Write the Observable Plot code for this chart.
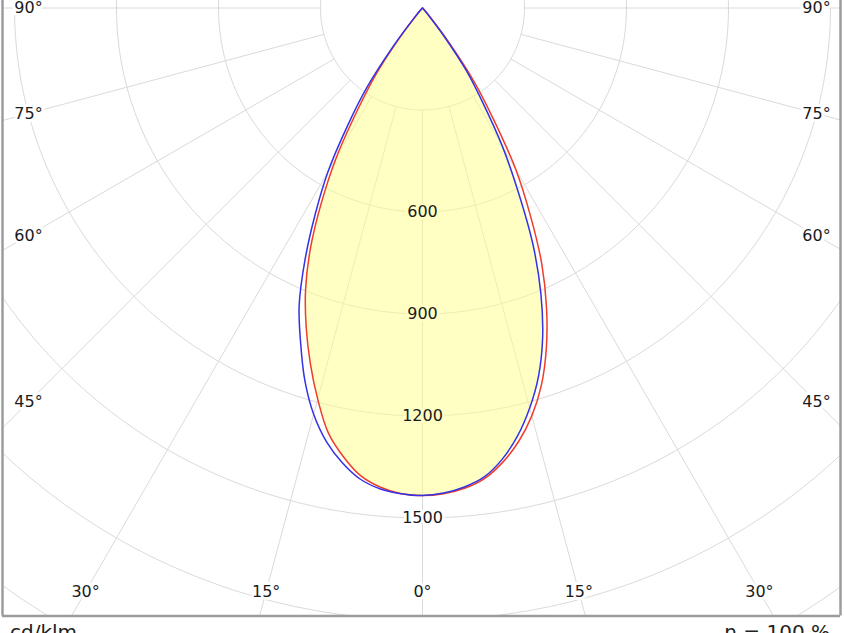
<!DOCTYPE html>
<html><head><meta charset="utf-8">
<script src="https://cdn.jsdelivr.net/npm/d3@7"></script>
<script src="https://cdn.jsdelivr.net/npm/@observablehq/plot@0.6"></script>
<style>
html,body{margin:0;background:#fff;font-family:"DejaVu Sans",sans-serif;}
#foot{display:flex;justify-content:space-between;padding:0 14px 0 10px;font-size:20px;line-height:23px;color:#222;margin-top:1px;}
</style></head><body>
<div id="chart"></div>
<div id="foot"><span id="unit"></span><span id="eff"></span></div>
<script>
// gamma angles (degrees from nadir)
const gammaDeg  = [0, 2.5, 5, 7.5, 10, 12.5, 15, 17.5, 20, 22.5, 25, 27.5, 30, 32.5, 35, 37.5, 40, 42.5, 45, 50, 60, 70, 80, 90];
// C180 / C0 plane (blue), cd/klm
const blueLeft  = [1434, 1430, 1420, 1398, 1358, 1306, 1237, 1150, 1048, 948, 818, 683, 556, 410, 285, 135, 35, 10, 4, 2, 1, 0, 0, 0];
const blueRight = [1434, 1428, 1414, 1391, 1348, 1290, 1218, 1135, 1033, 910, 770, 610, 470, 330, 225, 100, 25, 8, 3, 2, 1, 0, 0, 0];
// C270 / C90 plane (red), cd/klm
const redLeft   = [1434, 1430, 1415, 1388, 1340, 1280, 1191, 1097, 1000, 899, 780, 642, 505, 355, 240, 110, 28, 8, 3, 2, 1, 0, 0, 0];
const redRight  = [1434, 1430, 1418, 1396, 1357, 1306, 1242, 1163, 1065, 953, 830, 686, 550, 390, 265, 125, 32, 9, 3, 2, 1, 0, 0, 0];

const ringValues   = [300, 600, 900, 1200, 1500, 1800, 2100];
const ringLabels   = [600, 900, 1200, 1500];
const spokeAngles  = [-90, -75, -60, -45, -30, -15, 0, 15, 30, 45, 60, 75, 90];
const angleLabels  = ["90°", "75°", "60°", "45°", "30°", "15°", "0°", "15°", "30°", "45°", "60°", "75°", "90°"];
const unitText = "cd/klm";
const effText  = "η = 100 %";

document.getElementById("unit").textContent = unitText;
document.getElementById("eff").textContent = effText;

// layout
const pxPerCd = 0.34;
const W = 844, H = 620;
const cx = 422, cy = 7.5;           // pole position in px
const frameL = 2, frameR = 840, frameB = 615.5;
const labelInsetX = 394 / pxPerCd;  // where side labels sit (cd units)
const labelInsetY = 583.5 / pxPerCd; // where bottom labels sit
const xDomain = [-(cx - frameL) / pxPerCd, (frameR - cx) / pxPerCd];
const yDomain = [-cy / pxPerCd, (frameB - cy) / pxPerCd];

const rad = d => d * Math.PI / 180;
const pt = (a, r) => ({x: r * Math.sin(rad(a)), y: r * Math.cos(rad(a))});

function curve(left, right) {
  const pts = [];
  for (let i = gammaDeg.length - 1; i >= 0; i--) pts.push(pt(-gammaDeg[i], left[i]));
  for (let i = 1; i < gammaDeg.length; i++) pts.push(pt(gammaDeg[i], right[i]));
  return pts;
}
const bluePts = curve(blueLeft, blueRight);
const redPts  = curve(redLeft, redRight);
const fillPts = curve(blueLeft.map((v, i) => Math.min(v, redLeft[i])), blueRight.map((v, i) => Math.min(v, redRight[i])));

const ringPts = [];
for (const r of ringValues) for (let a = -180; a <= 180; a += 2) ringPts.push({...pt(a, r), r});

const spokes = spokeAngles.map(a => {
  const p1 = pt(a, 300), p2 = pt(a, 5000);
  return {x1: p1.x, y1: p1.y, x2: p2.x, y2: p2.y};
});

const angleLabelPts = spokeAngles.map((a, i) => {
  const s = Math.sin(rad(a)), c = Math.cos(rad(a));
  let t = Infinity;
  if (Math.abs(s) > 1e-9) t = Math.min(t, labelInsetX / Math.abs(s));
  if (c > 1e-9) t = Math.min(t, labelInsetY / c);
  return {x: t * s, y: t * c, label: angleLabels[i]};
});
const ringLabelPts = ringLabels.map(v => ({x: 0, y: v, label: String(v)}));

const gridColor = "#dadada";
const chart = Plot.plot({
  width: W, height: H,
  marginLeft: frameL, marginRight: W - frameR, marginTop: 0, marginBottom: H - frameB,
  x: {domain: xDomain, axis: null},
  y: {domain: yDomain, reverse: true, axis: null},
  style: {fontFamily: "DejaVu Sans, sans-serif", fontSize: "16px", background: "white", overflow: "hidden"},
  marks: [
    Plot.line(ringPts, {x: "x", y: "y", z: "r", stroke: gridColor, strokeWidth: 1, clip: true}),
    Plot.link(spokes, {x1: "x1", y1: "y1", x2: "x2", y2: "y2", stroke: gridColor, strokeWidth: 1, clip: true}),
    Plot.text(ringLabelPts, {x: "x", y: "y", text: "label", fill: "white", stroke: "white", strokeWidth: 5, fontSize: 16}),
    Plot.line(fillPts, {x: "x", y: "y", fill: "#ffff8a", fillOpacity: 0.5, stroke: "none"}),
    Plot.line(redPts, {x: "x", y: "y", stroke: "#f03c28", strokeWidth: 1.5, curve: "catmull-rom"}),
    Plot.line(bluePts, {x: "x", y: "y", stroke: "#3232e6", strokeWidth: 1.5, curve: "catmull-rom"}),
    Plot.text(ringLabelPts, {x: "x", y: "y", text: "label", fill: "#1a1a1a", fontSize: 16}),
    Plot.text(angleLabelPts, {x: "x", y: "y", text: "label", fill: "#1a1a1a", stroke: "white", strokeWidth: 6, paintOrder: "stroke", fontSize: 16}),
    Plot.ruleX(xDomain, {stroke: "#9c9c9c", strokeWidth: 2.5}),
    Plot.ruleY([yDomain[1]], {stroke: "#9c9c9c", strokeWidth: 2.5})
  ]
});
document.getElementById("chart").appendChild(chart);
</script>
</body></html>
